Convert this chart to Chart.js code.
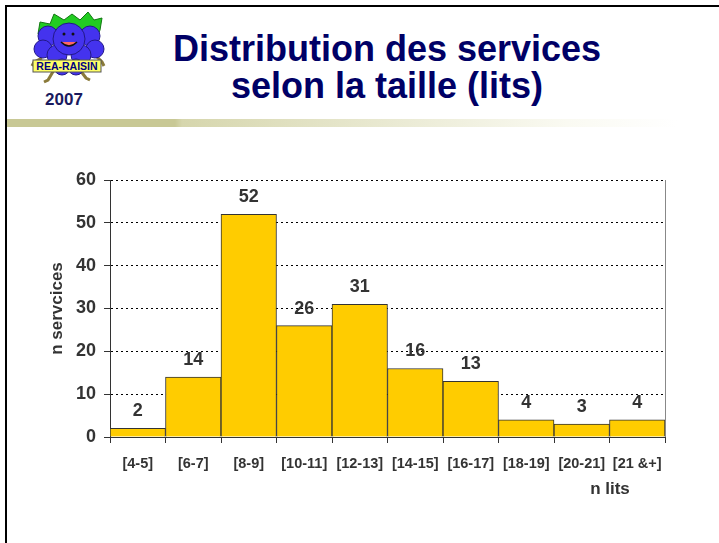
<!DOCTYPE html>
<html>
<head>
<meta charset="utf-8">
<script src="https://cdn.jsdelivr.net/npm/chart.js@4.4.0/dist/chart.umd.min.js"></script>
<style>
  html, body { margin: 0; padding: 0; background: #fff; }
  body { width: 719px; height: 543px; position: relative; overflow: hidden; font-family: Arial, "Liberation Sans", sans-serif; }
  #frameTop { position: absolute; left: 5px; top: 5px; width: 714px; height: 2px; background: #000; }
  #frameLeft { position: absolute; left: 5px; top: 5px; width: 2px; height: 538px; background: #000; }
  #band { position: absolute; left: 7px; top: 119px; width: 670px; height: 8px;
    background: linear-gradient(to right, #c8c895 0px, #c8c895 168px, #d6d6ad 175px, #fafaf2 560px, #ffffff 670px); }
  #title { position: absolute; left: 137px; width: 500px; top: 30px; text-align: center;
    color: #000066; font-weight: bold; font-size: 36px; line-height: 37px; }
  #logo { position: absolute; left: 0; top: 0; }
  #xTitle { position: absolute; left: 580px; width: 60px; top: 479px; text-align: center;
    font-weight: bold; font-size: 17px; color: #333; }
  #c { position: absolute; left: 0; top: 0; }
</style>
</head>
<body>
<div id="frameTop"></div>
<div id="frameLeft"></div>
<svg id="logo" width="130" height="115" viewBox="0 0 130 115">
  <!-- leaves -->
  <path d="M38 34 L40 22 L50 24 L54 14 L64 20 L72 14 L80 20 L88 12 L94 20 L102 18 L100 30 L96 40 L48 44 Z" fill="#22cc22" stroke="#117711" stroke-width="1"/>
  <!-- legs / arms -->
  <path d="M54 70 L48 80 L44 82 M80 70 L86 78 L90 80 M42 58 L34 62 L32 66 M96 56 L102 62 L104 66" stroke="#8a7a3a" stroke-width="3" fill="none"/>
  <!-- grapes -->
  <g fill="#4433ee" stroke="#221888" stroke-width="1">
    <circle cx="48" cy="36" r="10"/>
    <circle cx="90" cy="36" r="10"/>
    <circle cx="43" cy="49" r="9"/>
    <circle cx="95" cy="49" r="9"/>
    <circle cx="57" cy="55" r="10"/>
    <circle cx="81" cy="55" r="10"/>
    <circle cx="62" cy="67" r="8"/>
    <circle cx="76" cy="67" r="8"/>
    <circle cx="69" cy="39" r="16"/>
  </g>
  <!-- face -->
  <circle cx="64" cy="34" r="1.5" fill="#111"/>
  <circle cx="73" cy="34" r="1.5" fill="#111"/>
  <path d="M61 42 Q69 50 77 42" stroke="#111" stroke-width="1.5" fill="#ff6666"/>
  <!-- sign -->
  <rect x="33" y="60" width="68" height="12" fill="#ffff66" stroke="#555" stroke-width="1"/>
  <text x="67" y="70" text-anchor="middle" font-family="Arial, 'Liberation Sans', sans-serif" font-weight="bold" font-size="10.5" fill="#000080">REA-RAISIN</text>
  <text x="64" y="105" text-anchor="middle" font-family="Arial, 'Liberation Sans', sans-serif" font-weight="bold" font-size="17" fill="#1a1a5e">2007</text>
</svg>
<div id="band"></div>
<div id="title">Distribution des services<br>selon la taille (lits)</div>
<canvas id="c" width="719" height="543"></canvas>
<div id="xTitle">n lits</div>
<script>
const categories = ['[4-5]', '[6-7]', '[8-9]', '[10-11]', '[12-13]', '[14-15]', '[16-17]', '[18-19]', '[20-21]', '[21 &+]'];
const nServices = [2, 14, 52, 26, 31, 16, 13, 4, 3, 4];
const yTicks = [0, 10, 20, 30, 40, 50, 60];

const fontFamily = 'Arial, "Liberation Sans", sans-serif';

// value labels above the bars + grey right border of the plot area
const barLabels = {
  id: 'barLabels',
  afterDatasetsDraw(chart) {
    const ctx = chart.ctx;
    const meta = chart.getDatasetMeta(0);
    ctx.save();
    ctx.font = 'bold 18px ' + fontFamily;
    ctx.fillStyle = '#333';
    ctx.textAlign = 'center';
    ctx.textBaseline = 'middle';
    meta.data.forEach((bar, i) => {
      ctx.fillText(String(nServices[i]), bar.x, bar.y - 17);
    });
    const a = chart.chartArea;
    ctx.strokeStyle = '#888';
    ctx.lineWidth = 1;
    ctx.beginPath();
    ctx.moveTo(a.right + 0.5, a.top);
    ctx.lineTo(a.right + 0.5, a.bottom);
    ctx.stroke();
    ctx.restore();
  }
};

const ctx = document.getElementById('c').getContext('2d');
const chart = new Chart(ctx, {
  type: 'bar',
  data: {
    labels: categories,
    datasets: [{
      label: 'n services',
      data: nServices,
      backgroundColor: '#ffcc00',
      borderColor: '#333',
      borderWidth: 1,
      barPercentage: 1,
      categoryPercentage: 1
    }]
  },
  options: {
    responsive: false,
    animation: false,
    layout: { padding: { left: 40, top: 180, right: 54, bottom: 66 } },
    plugins: {
      legend: { display: false },
      tooltip: { enabled: false }
    },
    scales: {
      x: {
        afterFit(scale) { scale.height = 40; },
        grid: { offset: true, drawOnChartArea: false, drawTicks: true, tickLength: 6, color: '#333' },
        border: { color: '#333', width: 1 },
        ticks: { color: '#333', padding: 12, maxRotation: 0, autoSkip: false, font: { family: fontFamily, size: 14.5, weight: 'bold' } }
      },
      y: {
        min: 0,
        max: 60,
        afterFit(scale) { scale.width = 70; },
        afterBuildTicks(scale) { scale.ticks = yTicks.map(v => ({ value: v })); },
        grid: { color: '#000', lineWidth: 1, tickLength: 6, tickColor: '#333', tickBorderDash: [] },
        border: { color: '#333', width: 1, dash: [2, 3] },
        ticks: { color: '#333', padding: 8, font: { family: fontFamily, size: 18, weight: 'bold' } },
        title: { display: true, text: 'n servcices', color: '#333', padding: { top: 7, bottom: 0 }, font: { family: fontFamily, size: 17, weight: 'bold' } }
      }
    }
  },
  plugins: [barLabels]
});
</script>
</body>
</html>
